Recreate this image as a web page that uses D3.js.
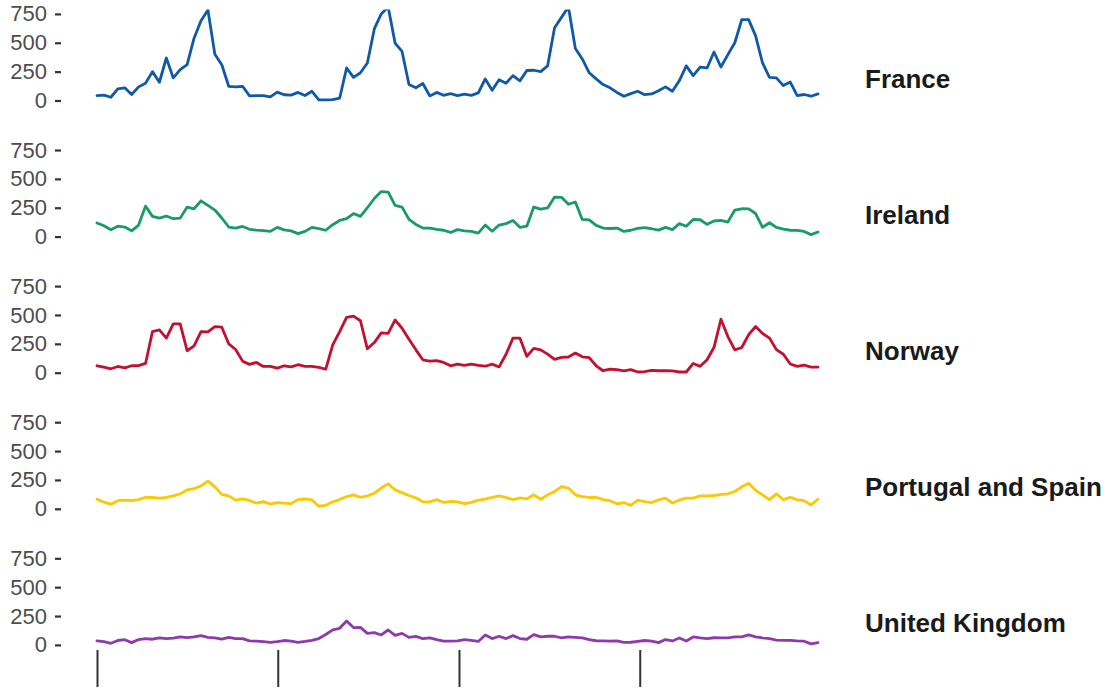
<!DOCTYPE html>
<html><head><meta charset="utf-8">
<script src="https://cdn.jsdelivr.net/npm/d3@7"></script>
<style>body{margin:0;background:#fff;} svg{display:block;}</style>
</head><body>
<svg id="chart" width="1110" height="690"></svg>
<script>
const countries = ["France","Ireland","Norway","Portugal and Spain","United Kingdom"];
const colors = ["#1059a8","#189b65","#c4102f","#fcc800","#8e3aad"];

const france = [43,46,28,100,110,52,118,150,250,158,
  368,196,267,310,540,690,784,400,310,123,
  118,123,40,43,43,32,72,50,47,70,
  43,80,5,5,8,20,282,200,240,325,
  620,750,810,497,425,138,110,147,40,70,
  45,60,43,55,45,66,187,89,180,150,
  215,170,260,262,250,300,630,720,810,450,
  360,240,187,138,110,70,37,60,80,50,
  57,85,118,80,172,300,215,290,282,420,
  290,397,500,700,700,560,325,200,196,129,
  160,43,52,37,57];
const ireland = [118,94,60,90,83,50,100,264,175,160,
  178,155,160,256,241,310,270,230,161,83,
  74,88,63,56,52,45,80,58,50,26,
  45,80,70,55,103,140,155,200,175,250,
  330,390,385,270,255,150,105,74,74,63,
  55,36,60,50,45,30,100,46,100,112,
  140,80,90,256,238,248,342,340,280,300,
  149,145,97,74,70,74,45,55,72,77,
  68,56,80,60,112,90,149,146,106,135,
  140,126,230,241,240,200,80,120,80,65,
  55,54,45,17,40];
const norway = [60,49,34,54,42,60,62,80,356,371,
  300,422,422,190,233,355,353,399,394,250,
  201,100,72,89,54,54,40,60,50,69,
  54,55,46,30,241,356,480,490,450,207,
  261,345,340,457,385,290,198,112,100,105,
  89,60,75,63,75,63,56,74,50,160,
  299,300,141,210,198,161,115,132,136,170,
  138,130,60,17,30,26,15,26,6,10,
  20,17,18,15,6,6,80,55,112,220,
  463,313,198,218,330,400,340,300,200,160,
  75,55,65,49,49];
const portugalSpain = [83,57,40,70,75,70,80,100,98,92,
  98,112,129,164,175,198,240,190,125,112,
  75,85,72,49,63,40,54,49,45,80,
  85,77,22,30,60,80,106,120,100,112,
  135,180,216,164,140,115,95,60,60,80,
  55,65,60,45,55,75,83,100,112,98,
  80,95,86,121,83,121,150,193,180,121,
  106,98,100,80,70,43,54,30,75,62,
  54,77,92,50,77,92,92,112,112,115,
  125,130,150,190,221,160,120,80,129,80,
  100,77,70,34,83];
const unitedKingdom = [34,29,14,38,45,20,46,55,49,60,
  55,58,70,63,69,80,65,60,50,65,
  54,54,35,32,29,22,28,38,32,22,
  30,40,55,90,130,144,207,150,152,100,
  106,86,129,82,100,65,74,55,60,45,
  32,32,34,45,40,30,86,55,75,55,
  80,55,49,89,69,75,75,60,69,65,
  60,45,36,35,32,34,22,23,30,38,
  32,20,46,34,60,34,69,60,55,62,
  60,60,69,69,86,70,60,54,42,40,
  40,34,32,9,20];

const yTicks = [0,250,500,750];
const xTickDates = ["2015-01-01","2016-01-01","2017-01-01","2018-01-01"];
const startDate = "2015-01-01";
const stepDays = 14;

const seriesList = [france, ireland, norway, portugalSpain, unitedKingdom];

const svg = d3.select("#chart");
const parse = d3.utcParse("%Y-%m-%d");
const dates = france.map((_, i) => d3.utcDay.offset(parse(startDate), i * stepDays));
const x = d3.scaleUtc().domain(d3.extent(dates)).range([97, 818]);
const plotLeft = 61, plotRight = 854;
const unit = 86.6 / 750;
const yMin = -37.5, yMax = 787.5;
const font = "'Liberation Sans', Arial, Helvetica, sans-serif";

seriesList.forEach((vals, k) => {
  const zero = 100.5 + 136.1 * k;
  const y = d3.scaleLinear().domain([yMin, yMax])
    .range([zero - yMin * unit, zero - yMax * unit]);
  const top = y(yMax), bottom = y(yMin);
  const id = "clip" + k;
  svg.append("clipPath").attr("id", id).append("rect")
    .attr("x", plotLeft).attr("y", top)
    .attr("width", plotRight - plotLeft).attr("height", bottom - top);

  const ax = svg.append("g").attr("transform", `translate(${plotLeft},0)`)
    .call(d3.axisLeft(y).tickValues(yTicks).tickSize(6).tickPadding(8));
  ax.select(".domain").remove();
  ax.selectAll(".tick line").attr("stroke", "#333").attr("stroke-width", 2.2);
  ax.selectAll(".tick text").attr("fill", "#4d4d4d")
    .style("font-family", font).style("font-size", "22px");

  const data = vals.map((v, i) => ({d: dates[i], v}));
  const line = d3.line().x(p => x(p.d)).y(p => y(p.v));
  svg.append("path").datum(data)
    .attr("clip-path", `url(#${id})`)
    .attr("d", line).attr("fill", "none")
    .attr("stroke", colors[k]).attr("stroke-width", 2.8)
    .attr("stroke-linejoin", "round").attr("stroke-linecap", "round");

  svg.append("text").attr("x", 865).attr("y", zero - 13)
    .text(countries[k])
    .style("font-family", font).style("font-size", "26px")
    .style("font-weight", "bold").attr("fill", "#1a1a1a");
});

const xa = svg.append("g").attr("transform", "translate(0,650)")
  .call(d3.axisBottom(x).tickValues(xTickDates.map(parse)).tickSize(37).tickFormat(""));
xa.select(".domain").remove();
xa.selectAll(".tick line").attr("stroke", "#333").attr("stroke-width", 2);
</script>
</body></html>
